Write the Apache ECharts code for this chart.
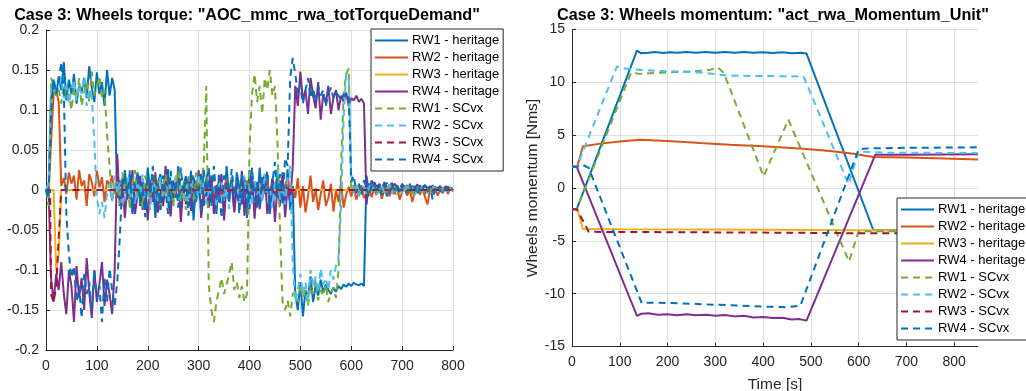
<!DOCTYPE html>
<html><head><meta charset="utf-8">
<script src="https://cdn.jsdelivr.net/npm/echarts@6/dist/echarts.min.js"></script>
<style>html,body{margin:0;padding:0;background:#fff}#c{width:1026px;height:391px}</style>
</head><body><div id="c"></div>
<script>
// ---------------- DATA ----------------
const seriesNames = ['RW1 - heritage','RW2 - heritage','RW3 - heritage','RW4 - heritage','RW1 - SCvx','RW2 - SCvx','RW3 - SCvx','RW4 - SCvx'];
const torqueXTicks = [0,100,200,300,400,500,600,700,800];
const momentumXTicks = [0,100,200,300,400,500,600,700,800];

// time samples of the torque plot [s]
const torqueTimes = [
0,5,10,15,20,25,30,35,40,45,50,55,60,65,70,75,80,85,90,95,
100,105,110,115,120,125,130,135,140,145,150,155,160,165,170,175,180,185,190,195,
200,205,210,215,220,225,230,235,240,245,250,255,260,265,270,275,280,285,290,295,
300,305,310,315,320,325,330,335,340,345,350,355,360,365,370,375,380,385,390,395,
400,405,410,415,420,425,430,435,440,445,450,455,460,465,470,475,480,485,490,495,
500,505,510,515,520,525,530,535,540,545,550,555,560,565,570,575,580,585,590,595,
600,605,610,615,620,625,630,635,640,645,650,655,660,665,670,675,680,685,690,695,
700,705,710,715,720,725,730,735,740,745,750,755,760,765,770,775,780,785,790,795,
800];

const rw1HeritageTorque = [
0.002,-0.003,0.11,
0.135,0.118,0.142,0.125,0.16,0.112,0.138,0.12,0.145,0.108,
0.13,0.122,0.14,0.115,0.155,0.128,0.11,0.147,0.12,0.135,
0.105,0.15,0.118,0.14,0.125,
-0.01,
0.012,-0.02,0.025,-0.008,0.018,-0.03,0.005,0.022,-0.015,0.01,
-0.025,0.028,-0.005,0.015,-0.035,0.008,0.02,-0.018,0.003,0.026,
-0.022,0.012,-0.01,0.03,-0.028,0.006,0.017,-0.012,0.024,-0.038,
0.01,-0.004,0.02,-0.02,0.014,0.027,-0.016,0.002,-0.03,0.019,
0.008,-0.024,0.03,-0.01,0.012,-0.027,0.022,0.004,-0.018,0.016,
-0.035,0.025,-0.006,0.011,-0.022,0.028,-0.012,0.007,0.02,-0.03,
0.015,-0.008,0.024,-0.02,0.01,-0.015,0.026,-0.025,0.005,
-0.13,-0.15,-0.115,-0.158,-0.125,-0.135,-0.108,-0.14,-0.12,-0.132,
-0.112,-0.128,-0.118,-0.125,-0.13,-0.122,-0.127,-0.12,-0.124,-0.118,
-0.121,-0.117,-0.12,-0.116,-0.118,-0.119,-0.117,-0.12,
0.018,-0.004,0.012,0.002,-0.006,0.008,-0.002,0.01,-0.008,0.004,
0.009,-0.005,0.006,-0.003,0.008,0.001,-0.006,0.007,-0.002,0.005,
-0.004,0.006,0.001,-0.005,0.004,-0.002,0.006,-0.003,0.003,0.001,
-0.004,0.005,-0.001,0.003,0.000];

const rw2HeritageTorque = [
0.0,-0.005,0.06,0.12,0.125,0.11,0.005,
0.015,-0.005,0.022,0.008,0.018,-0.012,0.025,0.005,0.012,-0.02,
0.02,0.01,-0.008,0.024,0.003,0.016,-0.015,0.012,0.006,0.018,
-0.004,
0.005,-0.01,0.012,-0.004,0.008,-0.012,0.003,0.01,-0.006,0.014,
-0.008,0.002,0.011,-0.013,0.006,-0.003,0.009,-0.01,0.004,0.012,
-0.005,0.007,-0.011,0.002,0.013,-0.007,0.005,-0.002,0.01,-0.009,
0.006,0.012,-0.004,0.003,-0.012,0.008,-0.001,0.011,-0.008,0.004,
0.009,-0.006,0.002,0.013,-0.01,0.005,-0.003,0.01,-0.012,0.006,
-0.002,0.012,-0.007,0.004,0.009,-0.011,0.003,0.008,-0.005,0.011,
-0.009,0.002,0.007,-0.004,0.012,-0.01,0.005,0.015,-0.006,0.003,
-0.01,0.015,-0.022,0.005,-0.028,-0.008,0.018,-0.015,0.002,-0.025,
-0.005,0.012,-0.02,-0.01,0.008,-0.027,0.0,-0.015,0.01,-0.022,
-0.006,0.004,
-0.008,0.004,-0.012,-0.002,0.006,-0.01,-0.004,0.003,-0.009,0.002,
-0.006,0.005,-0.011,-0.001,0.004,-0.008,0.002,-0.005,0.006,-0.012,
-0.003,0.003,-0.007,0.001,-0.015,-0.002,0.004,-0.006,0.002,-0.009,
-0.018,0.003,-0.004,0.002,-0.007,0.001,-0.003,0.004,-0.005,0.002,
-0.002];

// sparse series given as [time, value]
const rw3HeritageTorque = [[0,0],[15,0],[20,-0.1],[25,-0.08],[30,0],[800,0]];

const rw4HeritageTorque = [
0.0,0.002,-0.11,
-0.14,-0.105,-0.125,-0.09,-0.13,-0.155,-0.1,-0.12,-0.165,-0.095,
-0.135,-0.11,-0.15,-0.085,-0.128,-0.16,-0.1,-0.14,-0.118,-0.09,
-0.145,-0.112,-0.13,-0.155,-0.1,
0.045,
-0.02,0.015,-0.035,0.005,-0.01,0.025,-0.03,-0.005,0.018,-0.025,
0.008,-0.038,0.012,-0.015,0.022,-0.028,0.0,-0.02,0.03,-0.012,
-0.033,0.01,-0.006,0.02,-0.04,0.004,-0.018,0.015,-0.026,0.007,
-0.01,0.025,-0.035,-0.002,0.012,-0.022,0.018,-0.03,0.006,-0.015,
0.02,-0.038,0.009,-0.008,0.016,-0.028,0.002,-0.02,0.024,-0.032,
0.005,-0.012,0.018,-0.036,0.01,-0.024,0.003,0.02,-0.03,-0.008,
0.014,-0.04,0.006,-0.018,0.022,-0.034,0.004,-0.015,0.03,
0.13,0.105,0.148,0.112,0.125,0.095,0.14,0.118,0.102,0.135,
0.088,0.12,0.108,0.13,0.095,0.115,0.125,0.1,0.118,0.11,
0.122,0.105,0.115,0.112,0.118,0.11,0.114,0.108,
-0.018,0.008,0.002,0.01,0.004,0.007,-0.002,0.009,0.003,0.006,
0.001,0.008,0.004,-0.001,0.007,0.003,0.006,0.0,0.005,0.002,
0.007,-0.002,0.004,0.006,0.001,0.005,-0.001,0.004,0.002,0.005,
0.0,0.003,0.004,0.001,0.002];

const rw1ScvxTorque = [
0.0,-0.02,0.14,
0.13,0.118,0.125,0.108,0.132,0.115,0.12,0.1,0.128,0.112,
0.14,0.105,0.122,0.135,0.11,0.148,0.118,0.13,0.142,0.115,
0.125,
0.07,0.03,-0.015,0.005,
0.01,-0.018,0.022,-0.005,0.015,-0.025,0.008,0.025,-0.012,0.004,
-0.022,0.018,0.002,-0.015,0.028,-0.008,0.012,-0.028,0.006,0.02,
-0.01,0.015,-0.02,0.003,0.024,-0.014,0.009,-0.025,0.017,0.001,
-0.012,0.022,-0.006,0.01,0.03,
0.13,-0.12,-0.15,
-0.165,-0.14,-0.125,-0.11,-0.13,-0.118,-0.105,-0.09,-0.125,-0.115,
-0.135,-0.12,-0.14,-0.13,
0.05,0.12,
0.145,0.11,0.13,0.095,0.14,0.125,0.15,0.118,0.13,
0.06,-0.05,-0.14,
-0.15,-0.138,-0.158,-0.13,
-0.128,-0.14,-0.118,-0.135,-0.125,-0.145,-0.12,-0.13,-0.112,-0.138,
-0.125,-0.132,-0.118,-0.14,-0.128,-0.122,-0.135,
-0.1,0.03,0.12,0.145,0.152,0.0,
0.006,-0.004,0.008,-0.002,0.005,-0.007,0.003,0.009,-0.005,0.002,
-0.006,0.007,0.001,-0.004,0.006,-0.002,0.004,-0.006,0.003,0.001,
0.005,-0.003,0.006,-0.005,0.002,0.004,-0.002,0.005,-0.004,0.001,
0.003,-0.003,0.004,0.0,-0.002,0.003,-0.001,0.002,0.001,0.0];

const rw2ScvxTorque = [
0.0,0.01,0.13,
0.135,0.12,0.128,0.14,0.115,0.13,0.108,0.125,0.138,0.112,
0.13,0.12,0.142,0.105,0.125,0.118,
0.06,-0.01,-0.03,-0.015,-0.035,-0.005,
0.008,-0.015,0.018,-0.004,0.01,-0.022,0.003,0.015,-0.01,0.006,
-0.018,0.012,-0.006,0.02,-0.012,0.002,-0.025,0.01,0.004,-0.014,
0.016,-0.008,0.006,-0.02,0.012,-0.003,0.018,-0.016,0.005,-0.01,
0.014,-0.022,0.008,0.0,-0.012,0.02,-0.006,0.01,-0.018,0.004,
-0.008,0.015,-0.02,0.006,0.012,-0.014,0.002,-0.024,0.016,-0.004,
0.01,-0.016,0.005,0.018,-0.01,0.003,-0.02,0.012,-0.006,0.008,
-0.015,0.02,-0.008,0.004,-0.022,0.01,0.028,-0.012,0.006,-0.018,
0.015,0.03,
-0.09,-0.14,
-0.125,-0.105,-0.13,-0.115,-0.14,-0.1,-0.12,-0.108,-0.128,-0.098,
-0.118,-0.11,-0.125,-0.1,-0.112,-0.095,
-0.085,-0.02,0.09,0.145,0.14,0.02,
-0.004,0.006,-0.008,0.002,0.005,-0.006,0.008,-0.003,0.004,-0.007,
0.002,0.006,-0.004,0.001,0.007,-0.005,0.003,-0.002,0.006,-0.004,
0.002,0.005,-0.003,0.004,-0.006,0.001,0.005,-0.002,0.003,-0.004,
0.002,0.004,-0.001,0.003,-0.003,0.002,0.001,-0.002,0.002,0.0];

const rw3ScvxTorque = [[0,0],[8,0],[10,-0.13],[15,-0.14],[20,-0.12],[25,-0.06],[30,0],[800,0]];

const rw4ScvxTorque = [
0.0,-0.01,0.1,
0.14,0.12,0.135,0.16,0.125,
-0.03,-0.08,
-0.11,-0.095,-0.14,-0.12,-0.16,-0.105,-0.13,-0.115,-0.15,-0.1,
-0.135,-0.12,-0.165,-0.11,-0.14,-0.098,-0.125,-0.145,-0.115,
-0.06,0.01,
0.02,-0.012,0.025,-0.028,0.006,0.015,-0.02,0.01,-0.034,0.022,
-0.005,0.03,-0.018,0.008,-0.025,0.018,0.0,-0.03,0.024,-0.01,
0.012,-0.022,0.028,-0.004,0.016,-0.032,0.01,0.02,-0.015,0.005,
-0.027,0.025,-0.008,0.014,-0.02,0.03,-0.012,0.004,-0.035,0.018,
0.008,-0.016,0.026,-0.006,0.012,-0.03,0.02,-0.01,0.006,-0.024,
0.028,-0.014,0.01,-0.02,0.016,-0.004,0.024,-0.028,0.008,0.035,
-0.01,0.02,-0.018,0.04,0.03,
0.14,0.165,
0.145,0.12,0.132,0.108,0.125,0.14,0.115,0.128,0.11,0.13,
0.118,0.125,0.105,0.12,0.128,0.115,0.122,0.118,0.112,0.12,
0.116,0.118,
0.01,0.018,-0.004,0.008,-0.006,0.012,0.002,-0.008,0.006,0.01,
-0.003,0.007,-0.006,0.004,0.009,-0.004,0.005,0.0,0.007,-0.005,
0.003,0.006,-0.003,0.008,-0.002,0.004,-0.006,0.005,0.001,0.006,
-0.003,0.004,-0.012,0.003,0.005,-0.002,0.004,0.0,0.003,-0.001,
0.002];

// momentum plot, [time, momentum]
const rw1HeritageMomentum = [[0,-2],[10,-2],[136,13.0],[145,12.75],[160,12.8],[175,12.86],[190,12.78],[205,12.85],[220,12.79],[240,12.87],[260,12.8],[280,12.86],[300,12.79],[320,12.87],[340,12.8],[360,12.86],[380,12.79],[400,12.85],[420,12.78],[440,12.84],[460,12.76],[480,12.8],[491,12.72],[631,-4.0],[700,-4.0],[850,-4.0]];
const rw2HeritageMomentum = [[0,2],[11,2],[23,3.95],[60,4.2],[100,4.4],[143,4.57],[200,4.45],[269,4.26],[330,4.1],[400,3.94],[484,3.72],[540,3.5],[589,3.25],[631,2.94],[700,2.88],[780,2.8],[850,2.7]];
const rw3HeritageMomentum = [[0,-2],[11,-2],[23,-3.88],[100,-3.9],[300,-3.92],[500,-3.97],[700,-4.02],[850,-4.05]];
const rw4HeritageMomentum = [[0,2],[10,2],[136,-12.1],[145,-11.9],[160,-11.85],[180,-12.0],[200,-11.95],[220,-12.05],[240,-11.95],[260,-12.05],[280,-12.0],[300,-12.08],[320,-12.02],[340,-12.15],[360,-12.1],[380,-12.25],[400,-12.2],[420,-12.3],[440,-12.28],[460,-12.45],[475,-12.4],[491,-12.55],[635,3.15],[700,3.15],[850,3.2]];
const rw1ScvxMomentum = [[0,-2],[10,-2],[124,10.95],[140,10.8],[200,10.95],[260,11.05],[290,11.2],[305,11.4],[318,10.9],[401,1.1],[453,6.47],[580,-6.95],[600,-4.1],[850,-4.1]];
const rw2ScvxMomentum = [[0,2],[10,2],[94,11.5],[110,11.3],[150,11.15],[200,11.05],[255,10.98],[297,10.8],[325,10.63],[400,10.6],[450,10.58],[485,10.55],[579,0.35],[600,3.45],[650,3.35],[850,3.3]];
const rw3ScvxMomentum = [[0,-2],[10,-2],[35,-4.15],[200,-4.18],[400,-4.22],[600,-4.28],[850,-4.3]];
const rw4ScvxMomentum = [[0,2],[10,2],[22,2.2],[35,1.9],[146,-10.9],[160,-10.85],[200,-10.88],[250,-10.95],[300,-11.05],[350,-11.12],[400,-11.22],[450,-11.28],[478,-11.15],[600,3.65],[620,3.75],[700,3.8],[850,3.85]];

// ---------------- CHART ----------------
const denseTorque = [rw1HeritageTorque, rw2HeritageTorque, rw4HeritageTorque, rw1ScvxTorque, rw2ScvxTorque, rw4ScvxTorque];
denseTorque.forEach((a, k) => { if (a.length !== torqueTimes.length) throw new Error('series ' + k + ' has ' + a.length + ' values'); });
const zipT = vals => torqueTimes.map((t, i) => [t, vals[i]]);

const colors = ['#0072BD','#D95319','#EDB120','#7E2F8E','#77AC30','#4DBEEE','#A2142F','#0072BD'];
const dash = [7, 5];
const FONT = "'Liberation Sans', Arial, Helvetica, sans-serif";
const TXT = '#262626';
const GRID = '#dfdfdf';

const torqueData = [zipT(rw1HeritageTorque), zipT(rw2HeritageTorque), rw3HeritageTorque, zipT(rw4HeritageTorque), zipT(rw1ScvxTorque), zipT(rw2ScvxTorque), rw3ScvxTorque, zipT(rw4ScvxTorque)];
const momentumData = [rw1HeritageMomentum, rw2HeritageMomentum, rw3HeritageMomentum, rw4HeritageMomentum, rw1ScvxMomentum, rw2ScvxMomentum, rw3ScvxMomentum, rw4ScvxMomentum];

function mkSeries(data, k, ax) {
  return {
    name: seriesNames[k], type: 'line', xAxisIndex: ax, yAxisIndex: ax,
    data: data, showSymbol: false, symbol: 'none', animation: false,
    color: colors[k], emphasis: { disabled: true }, silent: true,
    lineStyle: { color: colors[k], width: 2, type: k >= 4 ? dash : 'solid' }
  };
}
const series = [];
torqueData.forEach((d, k) => series.push(mkSeries(d, k, 0)));
momentumData.forEach((d, k) => series.push(mkSeries(d, k, 1)));

const axisCommon = {
  axisLine: { show: true, onZero: false, lineStyle: { color: TXT, width: 1 } },
  axisTick: { show: true, inside: true, length: 4, lineStyle: { color: TXT } },
  axisLabel: { color: TXT, fontSize: 14, fontFamily: FONT, margin: 7 },
  splitLine: { show: true, lineStyle: { color: GRID, width: 1 } }
};
const legendCommon = {
  orient: 'vertical', backgroundColor: '#fff', borderColor: '#262626', borderWidth: 1,
  itemWidth: 33, itemHeight: 14, itemGap: 4, padding: [5, 4, 5, 3],
  itemStyle: { color: 'rgba(0,0,0,0)', borderWidth: 0, opacity: 0 },
  textStyle: { fontSize: 13, color: '#000', fontFamily: FONT, padding: [0, 0, 0, -1] },
  selectedMode: false, data: seriesNames, z: 10
};

const chart = echarts.init(document.getElementById('c'), null, { renderer: 'canvas' });
chart.setOption({
  animation: false,
  backgroundColor: '#fff',
  textStyle: { fontFamily: FONT },
  grid: [
    { left: 46, top: 30, width: 407, height: 320, containLabel: false, outerBoundsMode: 'none' },
    { left: 572, top: 29.5, width: 406, height: 317, containLabel: false, outerBoundsMode: 'none' }
  ],
  xAxis: [
    Object.assign({}, axisCommon, { type: 'value', gridIndex: 0, min: 0, max: 800, interval: 100,
      axisLabel: Object.assign({}, axisCommon.axisLabel, { margin: 9 }) }),
    Object.assign({}, axisCommon, { type: 'value', gridIndex: 1, min: 0, max: 850, interval: 100,
      name: 'Time [s]', nameLocation: 'middle', nameGap: 30,
      nameTextStyle: { fontSize: 15.5, color: TXT, fontFamily: FONT },
      axisTick: Object.assign({}, axisCommon.axisTick, { customValues: momentumXTicks }),
      axisLabel: Object.assign({}, axisCommon.axisLabel, { margin: 9, customValues: momentumXTicks }),
      splitLine: { show: true, lineStyle: { color: [GRID, GRID, GRID, GRID, GRID, GRID, GRID, GRID, GRID, 'rgba(0,0,0,0)'], width: 1 } } })
  ],
  yAxis: [
    Object.assign({}, axisCommon, { type: 'value', gridIndex: 0, min: -0.2, max: 0.2, interval: 0.05 }),
    Object.assign({}, axisCommon, { type: 'value', gridIndex: 1, min: -15, max: 15, interval: 5,
      name: 'Wheels momentum [Nms]', nameLocation: 'middle', nameGap: 27, nameRotate: 90,
      nameTextStyle: { fontSize: 15.5, color: TXT, fontFamily: FONT } })
  ],
  legend: [
    Object.assign({}, legendCommon, { left: 371, top: 29 }),
    Object.assign({}, legendCommon, { left: 897, top: 198 })
  ],
  graphic: [
    { type: 'text', x: 247, y: 16, style: { text: 'Case 3: Wheels torque: "AOC_mmc_rwa_totTorqueDemand"', fontSize: 16.2, fontWeight: 'bold', fill: '#000', fontFamily: FONT, textAlign: 'center', textVerticalAlign: 'middle' } },
    { type: 'text', x: 773, y: 16, style: { text: 'Case 3: Wheels momentum: "act_rwa_Momentum_Unit"', fontSize: 16.2, fontWeight: 'bold', fill: '#000', fontFamily: FONT, textAlign: 'center', textVerticalAlign: 'middle' } }
  ],
  series: series
});
</script>
</body></html>
